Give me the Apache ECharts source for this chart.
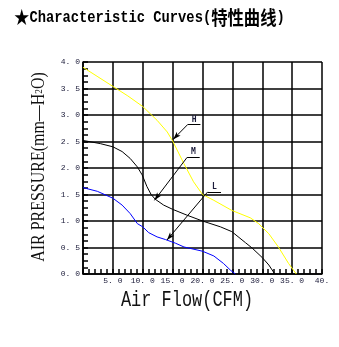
<!DOCTYPE html>
<html>
<head>
<meta charset="utf-8">
<script src="https://cdn.jsdelivr.net/npm/echarts@6/dist/echarts.min.js"></script>
<style>
  html, body { margin: 0; padding: 0; background: #fff; }
  #chart { width: 339px; height: 347px; }
</style>
</head>
<body>
<div id="chart"></div>
<script>
// Fan performance curves: static pressure (mm-H2O) against air flow (CFM)
const flowTicks = [0, 5, 10, 15, 20, 25, 30, 35, 40];
const pressureTicks = [0, 0.5, 1, 1.5, 2, 2.5, 3, 3.5, 4];

// [air flow CFM, pressure mm-H2O]
const curveH = [[0,3.90],[2.5,3.72],[5,3.54],[7.5,3.36],[10,3.16],[12.4,2.90],[14.1,2.68],[15,2.51],
  [16.9,2.08],[18.5,1.74],[20,1.50],[21.9,1.39],[24.9,1.20],[28,1.06],[29.4,0.95],[31.1,0.76],
  [32.7,0.51],[34.4,0.20],[35.7,0]];
const curveM = [[0,2.52],[2.9,2.46],[5,2.40],[6.55,2.31],[7.9,2.18],[9.1,2.02],[9.9,1.87],[10.7,1.65],
  [11.4,1.50],[12.1,1.41],[13.5,1.30],[15,1.22],[17.4,1.11],[20,1.00],[23,0.89],[24.9,0.80],
  [27.2,0.59],[28.3,0.49],[30,0.31],[31.1,0.17],[32.1,0]];
const curveL = [[0,1.63],[2.4,1.56],[5,1.43],[6.55,1.30],[7.9,1.14],[9.1,0.95],[10,0.89],[11,0.78],
  [12.4,0.70],[13.8,0.65],[15.5,0.58],[16.9,0.51],[20,0.43],[21.9,0.34],[23.5,0.20],[24.7,0.07],[25.5,0]];

// Callouts in data space: arrow tip on the curve, elbow, end of underline
const calloutH = { name: 'H', tip: [15.08, 2.54], elbow: [17.52, 2.82], end: [19.65, 2.82] };
const calloutM = { name: 'M', tip: [11.96, 1.39], elbow: [17.42, 2.20], end: [19.53, 2.20] };
const calloutL = { name: 'L', tip: [14.05, 0.64], elbow: [20.87, 1.55], end: [23.10, 1.55] };

const tickFont = 'Liberation Mono';
const inkColor = '#1c1c3a';

function callout(c) {
  return {
    silent: true,
    animation: false,
    lineStyle: { color: '#000', width: 1, type: 'solid' },
    label: { show: false },
    emphasis: { disabled: true },
    data: [
      [
        { coord: c.tip, symbol: 'arrow', symbolSize: [4, 8] },
        { coord: c.elbow, symbol: 'none' }
      ],
      [
        { coord: c.elbow, symbol: 'none',
          label: { show: true, position: 'insideMiddleTop', formatter: c.name, distance: 1,
                   fontFamily: 'DejaVu Sans Mono', fontSize: 8, fontWeight: 'bold', color: inkColor } },
        { coord: c.end, symbol: 'none' }
      ]
    ]
  };
}

function curve(name, data, color, c) {
  return {
    name: name,
    type: 'line',
    data: data,
    showSymbol: false,
    symbol: 'none',
    lineStyle: { color: color, width: 1 },
    itemStyle: { color: color },
    emphasis: { disabled: true },
    animation: false,
    z: 3,
    markLine: callout(c)
  };
}

const gridLine = { color: '#000', width: 1.5 };

const chart = echarts.init(document.getElementById('chart'), null, { renderer: 'canvas' });
chart.setOption({
  backgroundColor: '#fff',
  animation: false,
  grid: { left: 83, top: 62, width: 239, height: 212, containLabel: false },
  xAxis: {
    type: 'value',
    min: flowTicks[0],
    max: flowTicks[flowTicks.length - 1],
    interval: flowTicks[1] - flowTicks[0],
    axisLine: { show: true, lineStyle: gridLine },
    axisTick: { show: true, inside: true, length: 5, lineStyle: { color: '#000', width: 1.5 } },
    minorTick: { show: true, splitNumber: 5, length: 5, lineStyle: { color: '#000', width: 1.5 } },
    splitLine: { show: true, lineStyle: gridLine },
    axisLabel: {
      margin: 3,
      fontFamily: tickFont, fontSize: 8, color: inkColor,
      formatter: v => v === 0 ? '' : (v === 40 ? '40.' : v.toFixed(1).replace('.', '. '))
    }
  },
  yAxis: {
    type: 'value',
    min: pressureTicks[0],
    max: pressureTicks[pressureTicks.length - 1],
    interval: pressureTicks[1] - pressureTicks[0],
    axisLine: { show: true, lineStyle: gridLine },
    axisTick: { show: true, inside: true, length: 5, lineStyle: { color: '#000', width: 1.5 } },
    minorTick: { show: true, splitNumber: 4, length: 5, lineStyle: { color: '#000', width: 1.5 } },
    splitLine: { show: true, lineStyle: gridLine },
    axisLabel: {
      margin: 3,
      fontFamily: tickFont, fontSize: 8, color: inkColor,
      formatter: v => v.toFixed(1).replace('.', '. ')
    }
  },
  series: [
    curve('H', curveH, '#ffff00', calloutH),
    curve('M', curveM, '#000000', calloutM),
    curve('L', curveL, '#0000ff', calloutL)
  ],
  graphic: [
    {
      type: 'text',
      left: 14, top: 8,
      scaleX: 0.86,
      style: {
        text: '{s|★}{a|Characteristic Curves(}{c|特性曲线}{a|)}',
        rich: {
          s: { fontFamily: 'Noto Sans CJK SC', fontSize: 18, fill: '#000' },
          a: { fontFamily: 'Liberation Mono', fontSize: 16, fontWeight: 'bold', fill: '#000' },
          c: { fontFamily: 'Noto Sans CJK SC', fontSize: 19, fontWeight: 'bold', fill: '#000' }
        }
      }
    },
    {
      type: 'text',
      x: 39, y: 167,
      rotation: Math.PI / 2,
      scaleX: 0.84,
      style: {
        text: '{a|AIR PRESSURE(mm—H}{b|2}{a|O)}',
        align: 'center', verticalAlign: 'middle',
        rich: {
          a: { fontFamily: 'Liberation Serif', fontSize: 19, fill: '#111' },
          b: { fontFamily: 'Liberation Serif', fontSize: 11, fill: '#111' }
        }
      }
    },
    {
      type: 'text',
      x: 187, y: 300,
      scaleX: 0.77,
      style: {
        text: 'Air Flow(CFM)',
        align: 'center', verticalAlign: 'middle',
        fontFamily: 'Liberation Mono', fontSize: 22, fill: '#111'
      }
    }
  ]
});
</script>
</body>
</html>
